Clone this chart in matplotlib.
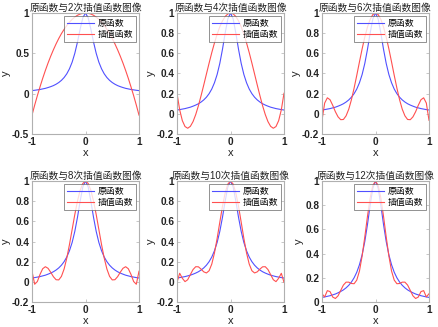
import matplotlib
matplotlib.use("Agg")
import matplotlib.pyplot as plt

# =========================================================
# Fonts
# =========================================================

plt.rcParams["font.family"] = ["Liberation Sans", "Noto Sans CJK SC"]
plt.rcParams["axes.unicode_minus"] = False

# =========================================================
# Data
# =========================================================

X = [-1.0, -0.95, -0.9, -0.85, -0.8, -0.75, -0.7, -0.65, -0.6, -0.55, -0.5,
     -0.45, -0.4, -0.35, -0.3, -0.25, -0.2, -0.15, -0.1, -0.05, 0.0,
     0.05, 0.1, 0.15, 0.2, 0.25, 0.3, 0.35, 0.4, 0.45, 0.5,
     0.55, 0.6, 0.65, 0.7, 0.75, 0.8, 0.85, 0.9, 0.95, 1.0]

ORIGINAL = [0.038, 0.042, 0.047, 0.052, 0.059, 0.066, 0.076, 0.087, 0.1, 0.117, 0.138,
            0.165, 0.2, 0.246, 0.308, 0.39, 0.5, 0.64, 0.8, 0.941, 1.0,
            0.941, 0.8, 0.64, 0.5, 0.39, 0.308, 0.246, 0.2, 0.165, 0.138,
            0.117, 0.1, 0.087, 0.076, 0.066, 0.059, 0.052, 0.047, 0.042, 0.038]

INTERP_2 = [-0.266, -0.142, -0.025, 0.085, 0.190, 0.288, 0.380, 0.465, 0.544, 0.617, 0.684,
            0.744, 0.797, 0.845, 0.886, 0.921, 0.949, 0.972, 0.987, 0.997, 1.0,
            0.997, 0.987, 0.972, 0.949, 0.921, 0.886, 0.845, 0.797, 0.744, 0.684,
            0.617, 0.544, 0.465, 0.380, 0.288, 0.190, 0.085, -0.025, -0.142, -0.266]

INTERP_4 = [0.204, 0.040, -0.068, -0.126, -0.143, -0.124, -0.077, -0.007, 0.080, 0.180, 0.286,
            0.395, 0.503, 0.607, 0.703, 0.789, 0.863, 0.922, 0.965, 0.991, 1.0,
            0.991, 0.965, 0.922, 0.863, 0.789, 0.703, 0.607, 0.503, 0.395, 0.286,
            0.180, 0.080, -0.007, -0.077, -0.124, -0.143, -0.126, -0.068, 0.040, 0.204]

INTERP_6 = [-0.064, 0.107, 0.159, 0.140, 0.085, 0.021, -0.030, -0.058, -0.056, -0.020, 0.046,
            0.140, 0.255, 0.382, 0.515, 0.644, 0.762, 0.861, 0.937, 0.984, 1.0,
            0.984, 0.937, 0.861, 0.762, 0.644, 0.515, 0.382, 0.255, 0.140, 0.046,
            -0.020, -0.056, -0.058, -0.030, 0.021, 0.085, 0.140, 0.159, 0.107, -0.064]

INTERP_8 = [0.105, -0.024, 0.003, 0.074, 0.130, 0.150, 0.134, 0.095, 0.051, 0.021, 0.019,
            0.054, 0.127, 0.235, 0.369, 0.518, 0.667, 0.801, 0.908, 0.976, 1.0,
            0.976, 0.908, 0.801, 0.667, 0.518, 0.369, 0.235, 0.127, 0.054, 0.019,
            0.021, 0.051, 0.095, 0.134, 0.150, 0.130, 0.074, 0.003, -0.024, 0.105]

INTERP_10 = [-0.005, 0.085, 0.035, 0.002, 0.021, 0.072, 0.122, 0.150, 0.149, 0.126, 0.099,
             0.088, 0.110, 0.176, 0.286, 0.430, 0.591, 0.749, 0.881, 0.969, 1.0,
             0.969, 0.881, 0.749, 0.591, 0.430, 0.286, 0.176, 0.110, 0.088, 0.099,
             0.126, 0.149, 0.150, 0.122, 0.072, 0.021, 0.002, 0.035, 0.085, -0.005]

INTERP_12 = [0.068, 0.042, 0.094, 0.086, 0.041, 0.029, 0.051, 0.096, 0.140, 0.164, 0.164,
             0.153, 0.151, 0.181, 0.256, 0.380, 0.538, 0.708, 0.859, 0.963, 1.0,
             0.963, 0.859, 0.708, 0.538, 0.380, 0.256, 0.181, 0.151, 0.153, 0.164,
             0.164, 0.140, 0.096, 0.051, 0.029, 0.041, 0.086, 0.094, 0.042, 0.068]

DEGREES = [2, 4, 6, 8, 10, 12]
INTERPS = [INTERP_2, INTERP_4, INTERP_6, INTERP_8, INTERP_10, INTERP_12]

X_TICKS = [-1, 0, 1]
Y_TICKS = [
    [-0.5, 0, 0.5, 1],
    [-0.2, 0, 0.2, 0.4, 0.6, 0.8, 1],
    [-0.2, 0, 0.2, 0.4, 0.6, 0.8, 1],
    [-0.2, 0, 0.2, 0.4, 0.6, 0.8, 1],
    [-0.2, 0, 0.2, 0.4, 0.6, 0.8, 1],
    [0, 0.2, 0.4, 0.6, 0.8, 1],
]

# =========================================================
# Layout (pixels of a 439x327 canvas)
# =========================================================

W, H = 439, 327
LEFTS = [32, 177, 322]
ROWS = [(13, 134), (181, 302)]
AX_W = 107

FRAME = "#b0b0b0"
BLUE = "#5050ff"
RED = "#ff5050"


def fmt(v):
    if v == int(v):
        return str(int(v))
    return ("%g" % v)


fig = plt.figure(figsize=(W / 100, H / 100), dpi=100)

for i, (deg, interp) in enumerate(zip(DEGREES, INTERPS)):
    top, bottom = ROWS[i // 3]
    left = LEFTS[i % 3]

    ax = fig.add_axes([
        left / W,
        (H - bottom) / H,
        AX_W / W,
        (bottom - top) / H,
    ])

    ax.plot(X, ORIGINAL, color=BLUE, linewidth=0.8, label="原函数")
    ax.plot(X, interp, color=RED, linewidth=0.8, label="插值函数")

    yt = Y_TICKS[i]
    ax.set_xlim(-1, 1)
    ax.set_ylim(yt[0], 1)

    ax.set_xticks(X_TICKS)
    ax.set_xticklabels([fmt(v) for v in X_TICKS], fontweight="bold")
    ax.set_yticks(yt)
    ax.set_yticklabels([fmt(v) for v in yt], fontweight="bold")

    ax.tick_params(
        direction="in",
        length=2,
        width=0.5,
        color=FRAME,
        labelsize=7.2,
        labelcolor="#222222",
        pad=2,
        top=True,
        right=True,
    )

    for spine in ax.spines.values():
        spine.set_color(FRAME)
        spine.set_linewidth(0.8)

    ax.set_xlabel("x", fontsize=8, labelpad=1, color="#222222")
    ax.set_ylabel("y", fontsize=8, labelpad=1, color="#222222")
    ax.set_title("原函数与%d次插值函数图像" % deg, fontsize=7, pad=1.5,
                 color="#222222")

    leg = ax.legend(
        loc="upper right",
        fontsize=6.4,
        frameon=True,
        fancybox=False,
        handlelength=3.0,
        handletextpad=0.4,
        borderpad=0.35,
        labelspacing=0.2,
        borderaxespad=0.35,
    )
    leg.get_frame().set_edgecolor("#606060")
    leg.get_frame().set_linewidth(0.6)

fig.savefig("out.png", dpi=100)
